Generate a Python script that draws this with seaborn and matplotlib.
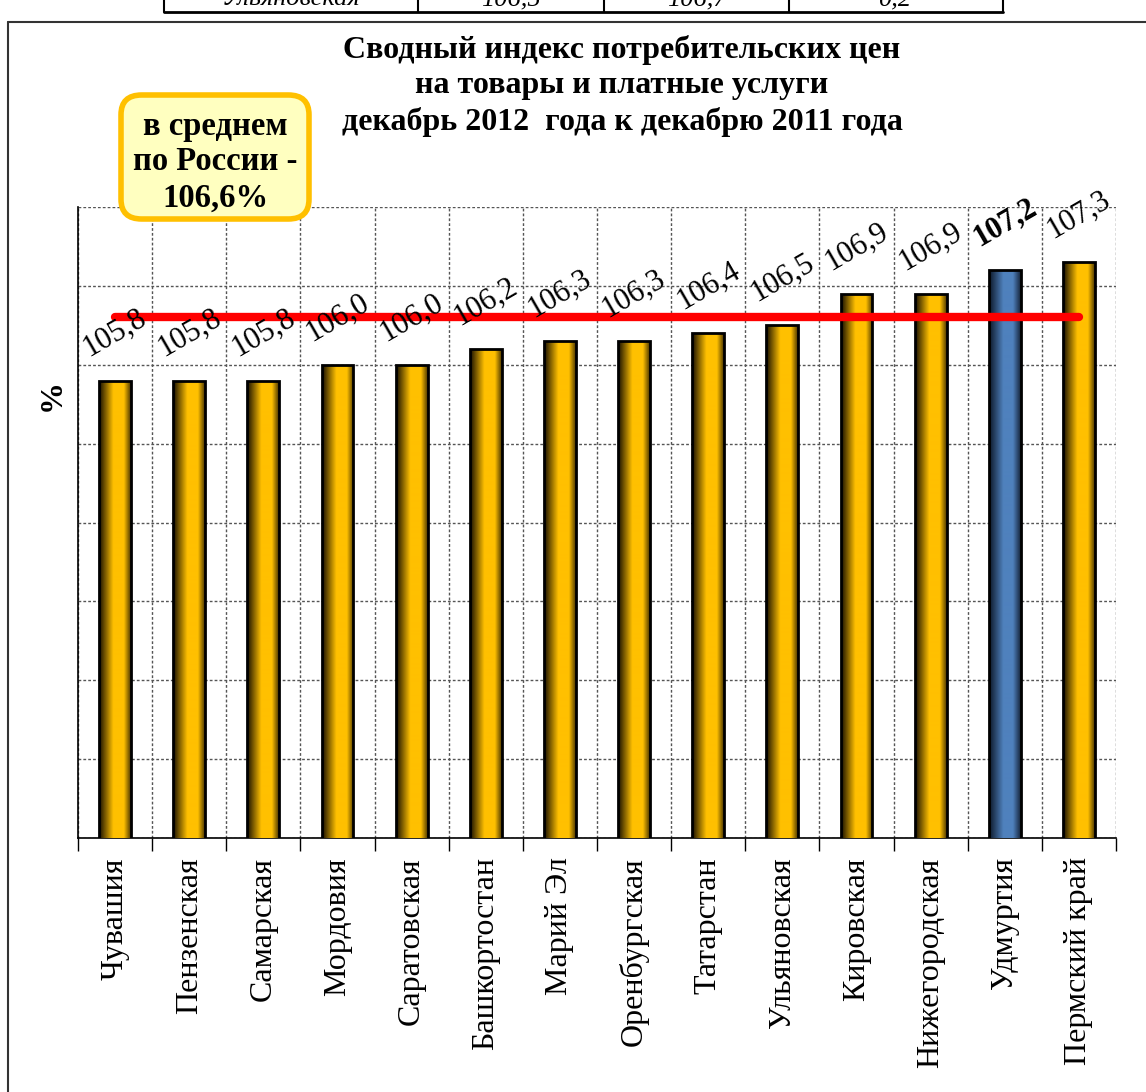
import numpy as np
import matplotlib
matplotlib.use("Agg")
import matplotlib.pyplot as plt
import seaborn as sns
from matplotlib.colors import LinearSegmentedColormap
from matplotlib.patches import FancyBboxPatch
from matplotlib.lines import Line2D

# data
regions = ["Чувашия", "Пензенская", "Самарская", "Мордовия", "Саратовская",
           "Башкортостан", "Марий Эл", "Оренбургская", "Татарстан", "Ульяновская",
           "Кировская", "Нижегородская", "Удмуртия", "Пермский край"]
values = [105.8, 105.8, 105.8, 106.0, 106.0, 106.2, 106.3, 106.3, 106.4, 106.5,
          106.9, 106.9, 107.2, 107.3]
highlight = "Удмуртия"
russia_avg = 106.6
title = "Сводный индекс потребительских цен\nна товары и платные услуги\nдекабрь 2012  года к декабрю 2011 года"
avg_text = "в среднем\nпо России -\n106,6%"
table_row = ["Ульяновская", "106,5", "106,7", "0,2"]

sns.set_theme(style="white")
plt.rcParams['font.family'] = ['Liberation Serif', 'DejaVu Serif']
plt.rcParams['text.color'] = 'black'
plt.rcParams['xtick.color'] = 'black'
plt.rcParams['ytick.color'] = 'black'

W, H = 1146, 1092
fig = plt.figure(figsize=(W / 100, H / 100), dpi=100)


def fx(x):
    return x / W


def fy(y):
    return 1 - y / H


ax = fig.add_axes([fx(78), fy(838), fx(1116) - fx(78), fy(207) - fy(838)])

sns.barplot(x=regions, y=values, ax=ax, width=0.43, color="#FFC000",
            edgecolor="black", linewidth=2, zorder=3)

ax.set_xlim(-0.5, len(regions) - 0.5)
ax.set_ylim(100, 108)
ybottom = ax.get_ylim()[0]

gold = LinearSegmentedColormap.from_list(
    "gold", [(0, "#140c00"), (0.45, "#FFC000"), (0.78, "#FFC000"), (1, "#4a3500")])
blue = LinearSegmentedColormap.from_list(
    "blue", [(0, "#0b1626"), (0.45, "#4F81BD"), (0.75, "#4F81BD"), (1, "#142238")])
grad = np.linspace(0, 1, 256).reshape(1, -1)

for name, patch in zip(regions, ax.patches):
    cmap = blue if name == highlight else gold
    x0 = patch.get_x()
    w, top = patch.get_width(), patch.get_y() + patch.get_height()
    im = ax.imshow(grad, cmap=cmap, extent=[x0, x0 + w, ybottom, top],
                   aspect="auto", origin="lower", zorder=2.9)
    im.set_clip_path(patch)
    patch.set_facecolor("none")

ax.set_xlim(-0.5, len(regions) - 0.5)
ax.set_ylim(100, 108)

# average line
ax.plot([0, len(regions) - 1], [russia_avg, russia_avg], color="#FF0000",
        lw=6, solid_capstyle="round", zorder=4)

# value labels
for i, (name, v) in enumerate(zip(regions, values)):
    ax.annotate(f"{v:.1f}".replace(".", ","), xy=(i, v), xytext=(0, 34),
                textcoords="offset points", ha="center", va="center",
                rotation=30, fontsize=22, color="black",
                fontweight="bold" if name == highlight else "normal",
                zorder=5, annotation_clip=False)

# axes styling
ax.set_yticks(np.arange(100, 109, 1))
ax.set_yticklabels([])
ax.set_xticks(range(len(regions)))
ax.set_xticklabels(regions, rotation=90, fontsize=23, color="black")
ax.set_xticks(np.arange(-0.5, len(regions), 1), minor=True)
ax.tick_params(axis="x", which="major", length=0, pad=14)
ax.tick_params(axis="x", which="minor", length=9, width=1, color="black",
               direction="out", bottom=True)
ax.tick_params(axis="y", length=0)
dotted = (0, (2, 1.5))
ax.grid(False)
ax.grid(which="minor", axis="x", linestyle=dotted, color="#555555", lw=1, zorder=0)
ax.grid(which="major", axis="y", linestyle=dotted, color="#555555", lw=1, zorder=0)
ax.set_axisbelow(True)
ax.set_xlabel("")
ax.set_ylabel("")
for side in ["top", "right"]:
    ax.spines[side].set_visible(False)
for side in ["left", "bottom"]:
    ax.spines[side].set_color("black")
    ax.spines[side].set_linewidth(1.2)

# title and labels
fig.text(fx(622), fy(86), title, ha="center", va="center", fontsize=23,
         fontweight="bold", linespacing=1.28)
fig.text(fx(52), fy(395), "%", ha="center", va="center", rotation=90,
         fontsize=23, fontweight="bold")

# callout box
box = FancyBboxPatch((fx(121), fy(219)), fx(309) - fx(121), fy(95) - fy(219),
                     boxstyle="round,pad=0,rounding_size=0.018",
                     transform=fig.transFigure, facecolor="#FFFFC0",
                     edgecolor="#FFC000", lw=4, zorder=6)
fig.add_artist(box)
fig.text(fx(215), fy(162), avg_text, ha="center", va="center", fontsize=23.5,
         fontweight="bold", linespacing=1.2, zorder=7)

# outer frame
fig.add_artist(Line2D([fx(8), fx(8)], [fy(22), 0], transform=fig.transFigure,
                      color="#333333", lw=1.5))
fig.add_artist(Line2D([fx(8), 1], [fy(22), fy(22)], transform=fig.transFigure,
                      color="#333333", lw=1.5))

# clipped table row at the top
col_edges = [164, 418, 604, 789, 1003]
fig.add_artist(Line2D([fx(164), fx(1003)], [fy(12), fy(12)],
                      transform=fig.transFigure, color="black", lw=2))
for xe in col_edges:
    fig.add_artist(Line2D([fx(xe), fx(xe)], [fy(12), 1],
                          transform=fig.transFigure, color="black", lw=1.5))
for k, txt in enumerate(table_row):
    fig.text(fx((col_edges[k] + col_edges[k + 1]) / 2), fy(5), txt,
             ha="center", va="baseline", fontsize=19, style="italic")

fig.savefig("out.png", dpi=100)
